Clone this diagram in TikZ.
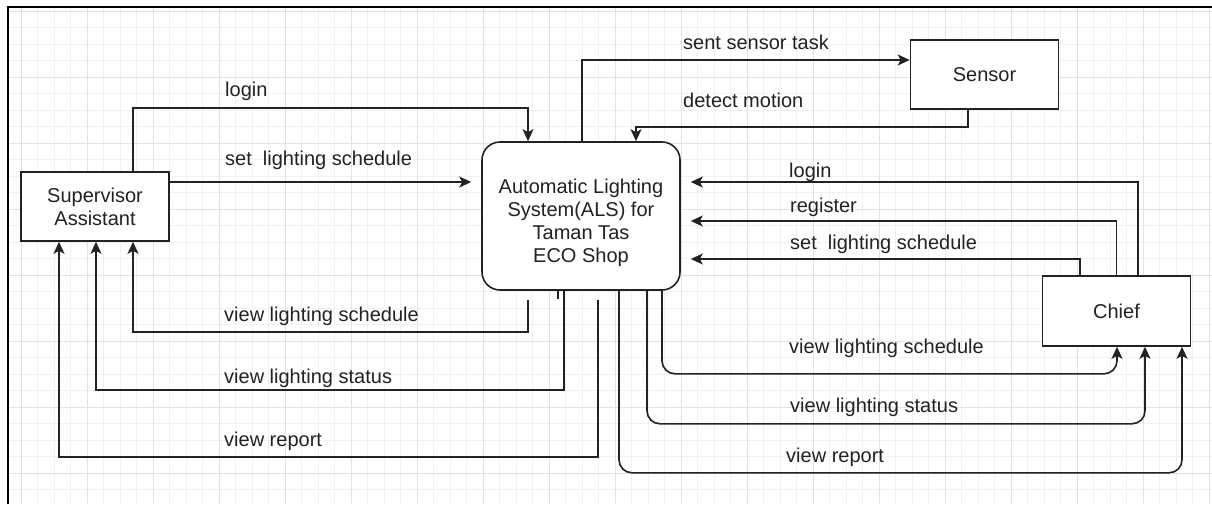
\documentclass[tikz,border=0pt]{standalone}
\usepackage{fontspec}
\setmainfont{Liberation Sans}
\usetikzlibrary{arrows.meta}
\definecolor{gridminor}{HTML}{F1F1F1}
\definecolor{gridmajor}{HTML}{E2E2E2}
\definecolor{ink}{HTML}{222222}

\begin{document}
\begin{tikzpicture}[x=1pt,y=-1pt,
  every node/.style={font=\fontsize{20}{23}\selectfont, text=ink},
  entity/.style={draw=ink, line width=1.6pt, fill=white, minimum width=148pt,
    minimum height=69pt, inner sep=0pt, align=center},
  process/.style={entity, rounded corners=18pt, minimum width=198pt, minimum height=148pt},
  flow/.style={draw=ink, line width=1.6pt, -{Stealth[length=12pt,width=11pt,inset=3pt]}},
  stub/.style={draw=ink, line width=1.6pt},
  tag/.style={anchor=base west, inner sep=0pt},
]
\useasboundingbox (0,0) rectangle (1212,504);
\fill[white] (0,0) rectangle (1212,504);

% background grid
\foreach \i in {0,...,72}
  \draw[gridminor, line width=1pt] ({21+16.5*\i},7) -- ({21+16.5*\i},504);
\foreach \j in {0,...,29}
  \draw[gridminor, line width=1pt] (8,{11+16.5*\j}) -- (1212,{11+16.5*\j});
\foreach \i in {0,...,18}
  \draw[gridmajor, line width=1pt] ({21+66*\i},7) -- ({21+66*\i},504);
\foreach \j in {0,...,7}
  \draw[gridmajor, line width=1pt] (8,{11+66*\j}) -- (1212,{11+66*\j});

% page frame
\draw[black, line width=2pt] (8,504) -- (8,7) -- (1212,7);

% entities and process
\node[entity] (sa) at (95,206.5) {Supervisor\\Assistant};
\node[process] (als) at (581,216) {};
\node[align=center, inner sep=0pt] (alstext) at (581,222.5)
  {Automatic Lighting\\System(ALS) for\\Taman Tas\\ECO Shop};
\node[entity] (sensor) at (984.5,74.5) {Sensor};
\node[entity, minimum height=70pt] (chief) at (1116.5,311) {Chief};

% supervisor assistant -> system
\draw[flow] ([xshift=38pt]sa.north) -- ++(0,-63) -| ([xshift=-53pt]als.north);
\draw[flow] ([yshift=24.5pt]sa.east) -- ([xshift=-10pt,yshift=34pt]als.west);
\node[tag] (lsalogin) at (225,96) {login};
\node[tag] (lsaset) at (225,165) {set\ \ lighting schedule};

% system <-> sensor
\draw[flow] ([xshift=1pt]als.north) |- ([yshift=14.5pt]sensor.west);
\draw[flow] ([xshift=-16.5pt]sensor.south) -- ++(0,17) -| ([xshift=55pt]als.north);
\node[tag] (ltask) at (683,49) {sent sensor task};
\node[tag] (lmotion) at (683,107) {detect motion};

% chief -> system
\draw[flow] ([xshift=21.5pt]chief.north) |- ([xshift=10pt,yshift=34pt]als.east);
\draw[flow] (chief.north) |- ([xshift=10pt,yshift=-5pt]als.east);
\draw[flow] ([xshift=-36.5pt]chief.north) |- ([xshift=10pt,yshift=-43pt]als.east);
\node[tag] (lchlogin) at (789,177) {login};
\node[tag] (lchreg) at (790,212) {register};
\node[tag] (lchset) at (790,249) {set\ \ lighting schedule};

% system -> supervisor assistant
\draw[stub] ([xshift=-23pt]als.south) -- ++(0,8);
\draw[flow] ([xshift=-53pt,yshift=-9pt]als.south) -- ++(0,32) -| ([xshift=38pt]sa.south);
\draw[flow] ([xshift=-17pt]als.south) -- ++(0,99) -| ([xshift=1pt]sa.south);
\draw[flow] ([xshift=17pt,yshift=-9pt]als.south) -- ++(0,157) -| ([xshift=-36pt]sa.south);
\node[tag] (lsasched) at (224,321) {view lighting schedule};
\node[tag] (lsastatus) at (224,383) {view lighting status};
\node[tag] (lsareport) at (224,446) {view report};

% system -> chief
\draw[flow, rounded corners=13pt] ([xshift=81pt]als.south) -- ++(0,83) -| ([xshift=0.5pt]chief.south);
\draw[flow, rounded corners=13pt] ([xshift=66pt]als.south) -- ++(0,133) -| ([xshift=28.5pt]chief.south);
\draw[flow, rounded corners=13pt] ([xshift=38pt]als.south) -- ++(0,182) -| ([xshift=65.5pt]chief.south);
\node[tag] (lchsched) at (789,353) {view lighting schedule};
\node[tag] (lchstatus) at (790,412) {view lighting status};
\node[tag] (lchreport) at (786,462) {view report};
\end{tikzpicture}
\end{document}
